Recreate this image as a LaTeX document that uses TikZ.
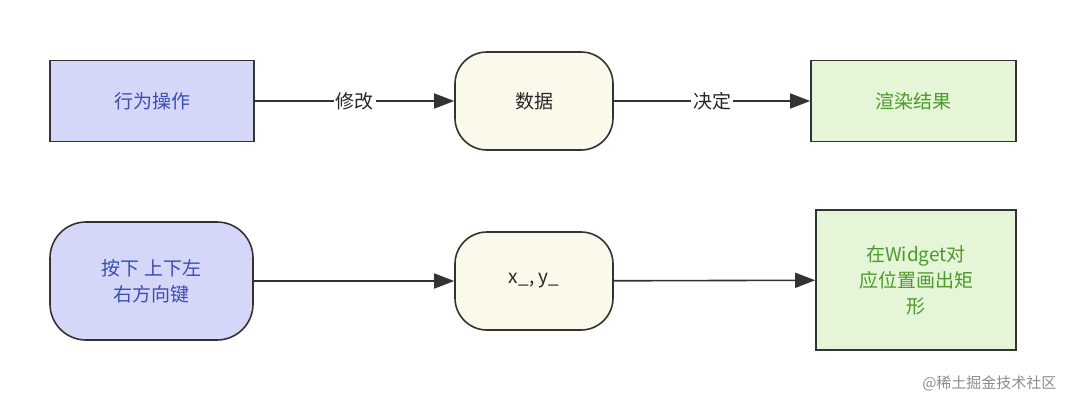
\documentclass[tikz,border=0pt]{standalone}
\usepackage{fontspec}
\setmainfont{Noto Sans CJK SC}
\usetikzlibrary{arrows.meta}
\definecolor{bluef}{HTML}{D4D7F8}
\definecolor{bluet}{HTML}{3A4DB0}
\definecolor{yelf}{HTML}{FBF9E9}
\definecolor{grnf}{HTML}{E5F5D8}
\definecolor{grnt}{HTML}{4C9A2A}
\definecolor{edge}{HTML}{333333}
\tikzset{
  x=1pt,y=-1pt,
  box/.style={draw=edge,line width=1.6pt,font=\fontsize{19}{26}\selectfont,align=center,inner sep=0pt},
  act/.style={box,fill=bluef,text=bluet},
  dat/.style={box,fill=yelf,text=black!85,rounded corners=32pt},
  res/.style={box,fill=grnf,text=grnt},
  conn/.style={draw=edge,line width=1.6pt,-{Triangle[length=20pt,width=15pt]}},
  lbl/.style={fill=white,font=\fontsize{19}{24}\selectfont,text=black!85,inner sep=2pt}
}
\begin{document}
\begin{tikzpicture}
\useasboundingbox (0,0) rectangle (1066,400);
\node[act,minimum width=204pt,minimum height=81pt] (a1) at (152,101) {行为操作};
\node[dat,minimum width=158pt,minimum height=98pt] (b1) at (534,101) {数据};
\node[res,minimum width=205pt,minimum height=81pt] (c1) at (913.5,101) {渲染结果};
\draw[conn] (a1) -- node[lbl]{修改} (b1);
\draw[conn] (b1) -- node[lbl]{决定} (c1);
\node[act,rounded corners=36pt,minimum width=203pt,minimum height=118pt] (a2) at (151.5,281) {按下 上下左\\右方向键};
\node[dat,minimum width=158pt,minimum height=98pt] (b2) at (534,281) {x\_, y\_};
\node[res,minimum width=200pt,minimum height=140pt] (c2) at (916,280) {在Widget对\\应位置画出矩\\形};
\draw[conn] (a2) -- (b2);
\draw[conn] (b2) -- (c2);
\node[font=\fontsize{15}{18}\selectfont,text=black!45,anchor=east] (wm) at (1060,383) {@稀土掘金技术社区};
\end{tikzpicture}
\end{document}
